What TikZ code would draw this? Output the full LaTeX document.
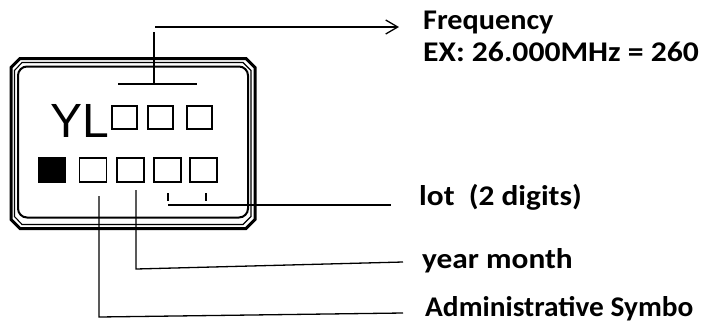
\documentclass[tikz,border=0pt]{standalone}
\usepackage{fontspec}
\setmainfont{Carlito}
\newfontfamily\arialfont{Liberation Sans}
\usetikzlibrary{arrows.meta}
\newcommand{\wide}[2]{\scalebox{#1}[1]{#2}}
\begin{document}
\begin{tikzpicture}[x=1pt,y=-1pt,
  conn/.style={line width=1.3pt},
  lbl/.style={font=\bfseries\fontsize{28.5}{32}\selectfont, anchor=base west, inner sep=0pt},
  digit/.style={draw, line width=1.4pt, minimum width=25pt, minimum height=23pt, inner sep=0pt},
  digitb/.style={draw, line width=1.4pt, minimum width=27pt, minimum height=24pt, inner sep=0pt}]
\useasboundingbox (0,0) rectangle (701,325);
% package outline
\draw[line width=3pt] (20,58.5) -- (246,58.5) -- (255,67.5) -- (255,219.5) -- (246,228.5) -- (20,228.5) -- (11,219.5) -- (11,67.5) -- cycle;
\draw[line width=1.1pt] (22,62.5) -- (243,62.5) -- (251,70.5) -- (251,216.5) -- (243,224.5) -- (22,224.5) -- (14.5,216.5) -- (14.5,70.5) -- cycle;
\draw[line width=2pt, rounded corners=9pt] (18,66.5) rectangle (248,217.5);
% marking
\node[font=\arialfont\fontsize{48}{50}\selectfont, anchor=base west, inner sep=0pt] (yl) at (50.5,137) {YL};
\node[digit] (f1) at (124.5,117.5) {};
\node[digit] (f2) at (160.5,117.5) {};
\node[digit] (f3) at (199.5,117.5) {};
\node[digitb, fill=black] (adm0) at (52,170) {};
\node[digitb] (adm) at (93,170) {};
\node[digitb] (ym) at (130.5,170) {};
\node[digitb] (l1) at (167.5,170) {};
\node[digitb] (l2) at (203.5,170) {};
% labels
\node[lbl] (freq) at (423,29) {\wide{1.06}{Frequency}};
\node[lbl] (ex) at (423,61) {\wide{1.11}{EX: 26.000MHz = 260}};
\node[lbl] (lot) at (419,205.5) {\wide{1.10}{lot~~(2 digits)}};
\node[lbl] (yearm) at (422,268) {\wide{1.10}{year month}};
\node[lbl] (admt) at (425,316.5) {\wide{1.03}{Administrative Symbo}};
% frequency bracket and arrow
\coordinate (fb) at (154,84);
\coordinate (ftop) at (154,32);
\coordinate (fbl) at (118,84);
\coordinate (fbr) at (197,84);
\coordinate (as) at (155,27);
\coordinate (ae) at (399,27);
\draw[conn] (fbl) -- (fbr);
\draw[conn] (fb) -- (ftop);
\draw[conn, -{Straight Barb[length=12pt,width=14pt,line width=1.3pt]}] (as) -- (ae);
% lot bracket
\draw[conn] (168,193) -- (168,201);
\draw[conn] (206,193) -- (206,201);
\draw[conn] (168,205) -- (391,205);
% year month
\draw[conn] (136,190) -- (136,269) -- (403,262);
% administrative symbol
\draw[conn] (99,196) -- (99,317) -- (403,313);
\end{tikzpicture}
\end{document}
